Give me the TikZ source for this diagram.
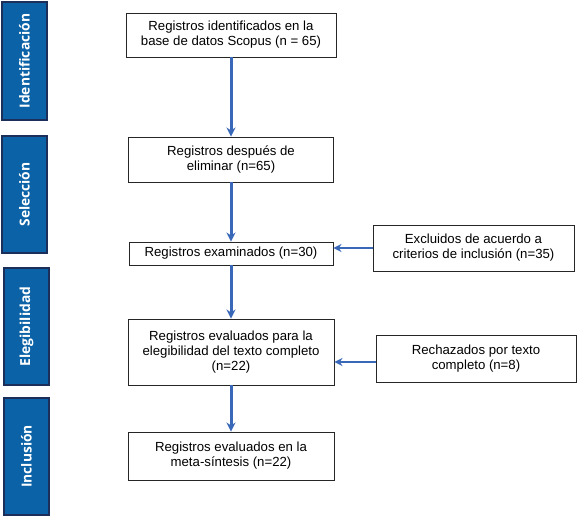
\documentclass[tikz,border=0pt]{standalone}
\usepackage{fontspec}
\setmainfont{Liberation Sans}
\newfontfamily\barfont{Open Sans}
\usetikzlibrary{arrows.meta}
\definecolor{barblue}{HTML}{0B62A6}
\definecolor{bardark}{HTML}{1B2F5A}
\definecolor{arrblue}{HTML}{3A68B8}

\begin{document}
\begin{tikzpicture}[x=1pt,y=-1pt,
	phase/.style={draw=bardark,line width=1.2pt,fill=barblue,minimum height=45pt,
		text=white,font=\barfont\bfseries\fontsize{13.8}{16}\selectfont,rotate=90},
	box/.style={draw=black!85,line width=0.9pt,fill=white,align=center,inner sep=0pt,
		font=\fontsize{13.2}{15}\selectfont},
	arr/.style={draw=arrblue,line width=3pt,-{Stealth[length=9pt,width=9pt]}},
	sidearr/.style={draw=arrblue,line width=2pt,-{Stealth[length=8pt,width=8pt]}}]
	\useasboundingbox (0,0) rectangle (577,518);
	% phases on the left
	\node[phase,minimum width=118pt] (ident) at (24.5,61) {Identificación};
	\node[phase,minimum width=117pt] (selec) at (24.5,194.5) {Selección};
	\node[phase,minimum width=117pt] (elegi) at (26.5,326.5) {Elegibilidad};
	\node[phase,minimum width=117pt] (inclu) at (26.5,456.5) {Inclusión};
	% main column
	\node[box,minimum width=210pt,minimum height=44pt] (iden) at (231,35)
		{Registros identificados en la\\base de datos Scopus (n = 65)};
	\node[box,minimum width=205pt,minimum height=45pt] (elim) at (231,159.5)
		{Registros después de\\eliminar (n=65)};
	\node[box,minimum width=204pt,minimum height=23pt] (exam) at (231,253.5)
		{Registros examinados (n=30)};
	\node[box,minimum width=206pt,minimum height=66pt] (eval) at (231,352)
		{Registros evaluados para la\\elegibilidad del texto completo\\(n=22)};
	\node[box,minimum width=206pt,minimum height=48pt] (meta) at (231,456)
		{Registros evaluados en la\\meta-síntesis (n=22)};
	% side column
	\node[box,minimum width=201pt,minimum height=46pt] (excl) at (473.5,248)
		{Excluidos de acuerdo a\\criterios de inclusión (n=35)};
	\node[box,minimum width=200pt,minimum height=47pt] (rech) at (476,358.5)
		{Rechazados por texto\\completo (n=8)};
	% connectors
	\draw[arr] (iden) -- (elim);
	\draw[arr] (elim) -- (exam);
	\draw[arr] (exam) -- (eval);
	\draw[arr] (eval) -- (meta);
	\draw[sidearr] (excl.west) -- (excl.west -| exam.east);
	\draw[sidearr] ([yshift=-3.5pt]rech.west) -- ([yshift=-3.5pt]rech.west -| eval.east);
\end{tikzpicture}
\end{document}
